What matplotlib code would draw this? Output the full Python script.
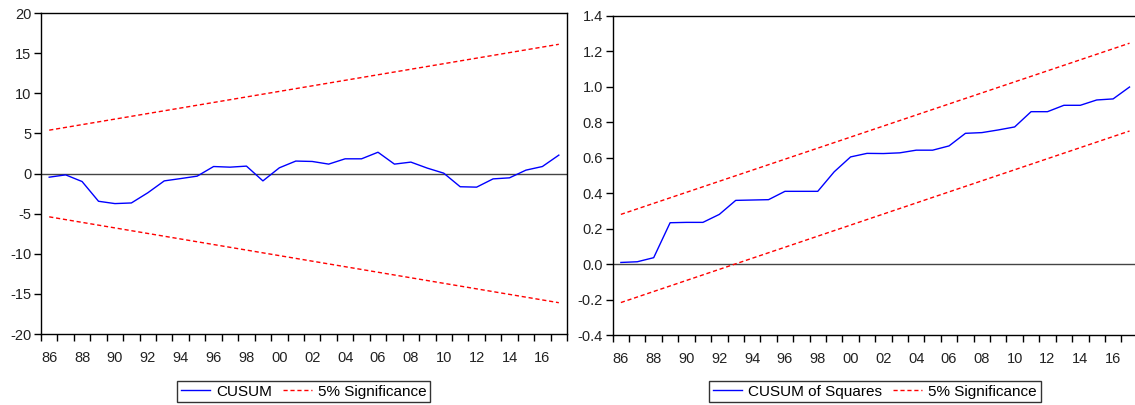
import matplotlib
matplotlib.use('Agg')
import matplotlib.pyplot as plt
from matplotlib.ticker import FixedLocator

plt.rcParams['font.family'] = ['Liberation Sans', 'DejaVu Sans']

years = list(range(1986, 2018))
cusum = [-0.46, -0.17, -1.0, -3.46, -3.75, -3.67, -2.4, -0.92, -0.63, -0.33,
         0.87, 0.79, 0.92, -0.92, 0.71, 1.55, 1.5, 1.17, 1.83, 1.83,
         2.65, 1.17, 1.42, 0.67, 0.04, -1.65, -1.7, -0.67, -0.54, 0.42,
         0.87, 2.29]
cusum_sq = [0.009, 0.013, 0.036, 0.233, 0.235, 0.235, 0.28, 0.359, 0.361, 0.363,
            0.41, 0.41, 0.41, 0.52, 0.604, 0.624, 0.623, 0.627, 0.642, 0.642,
            0.666, 0.737, 0.741, 0.756, 0.773, 0.859, 0.859, 0.895, 0.895, 0.925,
            0.931, 0.998]

# 5% bands are straight lines: start and end points only
band_years = [1986, 2017]
cusum_upper = [5.4, 16.1]
cusum_lower = [-5.4, -16.1]
sq_upper = [0.28, 1.245]
sq_lower = [-0.217, 0.75]

label_years = list(range(1986, 2017, 2))
label_text = ['%02d' % (y % 100) for y in label_years]
boundaries = [y - 0.5 for y in range(1986, 2019)]

fig = plt.figure(figsize=(11.35, 4.05), dpi=100)
ax1 = fig.add_axes([0.0361, 0.1753, 0.4635, 0.7926])
ax2 = fig.add_axes([0.5398, 0.1728, 0.4626, 0.7884])


def style(ax, ylo, yhi, yticks, fmt):
    ax.set_xlim(1985.5, 2017.5)
    ax.set_ylim(ylo, yhi)
    ax.set_yticks(yticks)
    ax.set_yticklabels([fmt % v for v in yticks])
    ax.set_xticks(label_years)
    ax.set_xticklabels(label_text)
    ax.xaxis.set_minor_locator(FixedLocator(boundaries))
    ax.tick_params(axis='x', which='major', length=0, pad=12, labelsize=10.5, colors='#222222')
    ax.tick_params(axis='x', which='minor', length=5, width=1, direction='out', color='black')
    ax.tick_params(axis='y', which='major', length=5, width=1, direction='out', pad=2,
                   labelsize=10.5, colors='#222222')
    ax.tick_params(axis='y', colors='black', labelcolor='#222222')
    for s in ax.spines.values():
        s.set_linewidth(1.0)
        s.set_color('black')
    ax.axhline(0, color='#444444', lw=1.0, zorder=1)


style(ax1, -20, 20, [-20, -15, -10, -5, 0, 5, 10, 15, 20], '%d')
l1, = ax1.plot(years, cusum, color='#0000ff', lw=1.0, label='CUSUM')
l2, = ax1.plot(band_years, cusum_upper, color='#ff0000', lw=1.0, ls=(0, (3, 2)),
               label='5% Significance')
ax1.plot(band_years, cusum_lower, color='#ff0000', lw=1.0, ls=(0, (3, 2)))

style(ax2, -0.4, 1.4, [-0.4, -0.2, 0.0, 0.2, 0.4, 0.6, 0.8, 1.0, 1.2, 1.4], '%.1f')
l3, = ax2.plot(years, cusum_sq, color='#0000ff', lw=1.0, label='CUSUM of Squares')
l4, = ax2.plot(band_years, sq_upper, color='#ff0000', lw=1.0, ls=(0, (3, 2)),
               label='5% Significance')
ax2.plot(band_years, sq_lower, color='#ff0000', lw=1.0, ls=(0, (3, 2)))

for handles, cx in [([l1, l2], 0.2676), ([l3, l4], 0.7709)]:
    leg = fig.legend(handles=handles, loc='center', bbox_to_anchor=(cx, 0.033),
                     ncol=2, frameon=True, fancybox=False, fontsize=11,
                     handlelength=1.9, handletextpad=0.4, columnspacing=0.7,
                     borderpad=0.25, borderaxespad=0)
    leg.get_frame().set_edgecolor('black')
    leg.get_frame().set_linewidth(1.0)

fig.savefig('out.png', dpi=100)
